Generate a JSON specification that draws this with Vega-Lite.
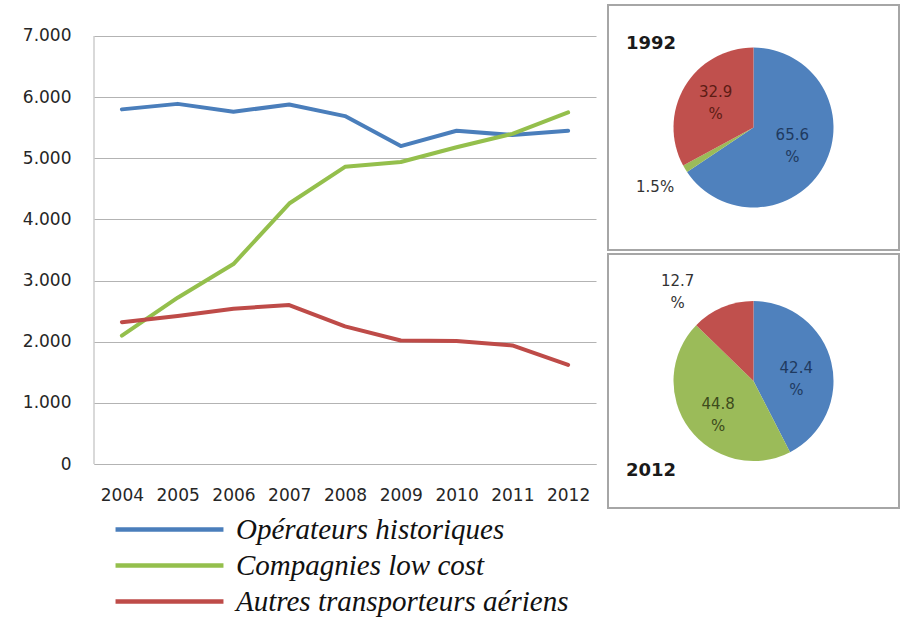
{
  "$schema": "https://vega.github.io/schema/vega-lite/v6.json",
  "padding": {"left": 22, "top": 4, "right": 2, "bottom": 2},
  "config": {"view": {"stroke": null}, "font": "DejaVu Sans"},
  "datasets": {
    "lines": [
      {"year": 2004, "cat": "Opérateurs historiques", "value": 5800},
      {"year": 2005, "cat": "Opérateurs historiques", "value": 5890},
      {"year": 2006, "cat": "Opérateurs historiques", "value": 5760},
      {"year": 2007, "cat": "Opérateurs historiques", "value": 5880},
      {"year": 2008, "cat": "Opérateurs historiques", "value": 5690},
      {"year": 2009, "cat": "Opérateurs historiques", "value": 5200},
      {"year": 2010, "cat": "Opérateurs historiques", "value": 5450},
      {"year": 2011, "cat": "Opérateurs historiques", "value": 5380},
      {"year": 2012, "cat": "Opérateurs historiques", "value": 5450},
      {"year": 2004, "cat": "Compagnies low cost", "value": 2100},
      {"year": 2005, "cat": "Compagnies low cost", "value": 2720},
      {"year": 2006, "cat": "Compagnies low cost", "value": 3270},
      {"year": 2007, "cat": "Compagnies low cost", "value": 4260},
      {"year": 2008, "cat": "Compagnies low cost", "value": 4860},
      {"year": 2009, "cat": "Compagnies low cost", "value": 4940},
      {"year": 2010, "cat": "Compagnies low cost", "value": 5180},
      {"year": 2011, "cat": "Compagnies low cost", "value": 5400},
      {"year": 2012, "cat": "Compagnies low cost", "value": 5750},
      {"year": 2004, "cat": "Autres transporteurs aériens", "value": 2320},
      {"year": 2005, "cat": "Autres transporteurs aériens", "value": 2420},
      {"year": 2006, "cat": "Autres transporteurs aériens", "value": 2540},
      {"year": 2007, "cat": "Autres transporteurs aériens", "value": 2600},
      {"year": 2008, "cat": "Autres transporteurs aériens", "value": 2250},
      {"year": 2009, "cat": "Autres transporteurs aériens", "value": 2020},
      {"year": 2010, "cat": "Autres transporteurs aériens", "value": 2010},
      {"year": 2011, "cat": "Autres transporteurs aériens", "value": 1940},
      {"year": 2012, "cat": "Autres transporteurs aériens", "value": 1620}
    ],
    "pie1992": [
      {"cat": "Opérateurs historiques", "pct": 65.6, "label": "65.6 %"},
      {"cat": "Compagnies low cost", "pct": 1.5, "label": "1.5%"},
      {"cat": "Autres transporteurs aériens", "pct": 32.9, "label": "32.9 %"}
    ],
    "pie2012": [
      {"cat": "Opérateurs historiques", "pct": 42.4, "label": "42.4 %"},
      {"cat": "Compagnies low cost", "pct": 44.8, "label": "44.8 %"},
      {"cat": "Autres transporteurs aériens", "pct": 12.7, "label": "12.7 %"}
    ]
  },
  "spacing": 12,
  "bounds": "flush",
  "resolve": {"scale": {"color": "independent"}, "legend": {"color": "independent"}},
  "hconcat": [
    {
      "width": 502,
      "height": 459,
      "layer": [
        {
          "data": {"values": [{}]},
          "mark": {"type": "rule", "color": "#b3b3b3", "strokeWidth": 1},
          "encoding": {
            "x": {"datum": 2003.5, "type": "quantitative"},
            "y": {"datum": 0, "type": "quantitative"},
            "y2": {"datum": 7000}
          }
        },
        {
          "data": {"name": "lines"},
          "mark": {"type": "line", "strokeWidth": 4, "strokeCap": "round", "strokeJoin": "round"},
          "encoding": {
            "x": {
              "field": "year", "type": "quantitative",
              "scale": {"domain": [2003.5, 2012.5], "nice": false, "zero": false},
              "axis": {
                "title": null, "values": [2004, 2005, 2006, 2007, 2008, 2009, 2010, 2011, 2012],
                "format": "d", "grid": false, "ticks": false, "tickSize": 0, "labelFlush": false,
                "domainColor": "#b3b3b3", "labelPadding": 23, "labelFont": "DejaVu Sans",
                "labelFontSize": 17, "labelColor": "#262626"
              }
            },
            "y": {
              "field": "value", "type": "quantitative",
              "scale": {"domain": [0, 7507], "nice": false},
              "axis": {
                "title": null, "values": [0, 1000, 2000, 3000, 4000, 5000, 6000, 7000],
                "labelExpr": "replace(format(datum.value, ',d'), ',', '.')",
                "grid": true, "gridColor": "#b3b3b3", "gridWidth": 1,
                "domain": false, "ticks": false, "tickSize": 0, "labelPadding": 23,
                "labelFont": "DejaVu Sans", "labelFontSize": 17, "labelColor": "#262626"
              }
            },
            "color": {
              "field": "cat", "type": "nominal",
              "scale": {
                "domain": ["Opérateurs historiques", "Compagnies low cost", "Autres transporteurs aériens"],
                "range": ["#4a7ebb", "#94bf4c", "#be4b48"]
              },
              "legend": {
                "orient": "bottom", "direction": "vertical", "title": null,
                "symbolType": "M-5,0H5", "symbolSize": 466, "symbolStrokeWidth": 4.5,
                "symbolOffset": 61, "labelOffset": 52, "labelFont": "Liberation Serif",
                "labelFontStyle": "italic", "labelFontSize": 29, "labelColor": "#111111",
                "rowPadding": 6, "offset": 12, "padding": 0, "labelLimit": 0
              }
            }
          }
        }
      ]
    },
    {
      "spacing": 4,
      "bounds": "flush",
      "vconcat": [
        {
          "width": 291,
          "height": 245,
          "view": {"stroke": "#a6a6a6", "strokeWidth": 2},
          "title": {"text": "1992", "orient": "top", "anchor": "start", "offset": -48, "dx": 18, "fontSize": 18, "fontWeight": "bold", "font": "DejaVu Sans", "color": "#1a1a1a"},
          "data": {"name": "pie1992"},
          "encoding": {
            "theta": {"field": "pct", "type": "quantitative", "stack": true},
            "order": {"field": "cat", "type": "ordinal", "sort": "descending"}
          },
          "layer": [
            {
              "mark": {"type": "arc", "outerRadius": 80},
              "encoding": {
                "color": {
                  "field": "cat", "type": "nominal",
                  "scale": {
                    "domain": ["Opérateurs historiques", "Compagnies low cost", "Autres transporteurs aériens"],
                    "range": ["#4f81bd", "#9bbb59", "#c0504d"]
                  },
                  "legend": null
                }
              }
            },
            {
              "mark": {"type": "text", "radius": 44, "dy": -13, "fontSize": 15, "lineHeight": 22, "lineBreak": " "},
              "encoding": {
                "text": {"condition": {"test": "datum.pct >= 20", "field": "label"}, "value": ""},
                "fill": {
                  "field": "cat", "type": "nominal",
                  "scale": {
                    "domain": ["Opérateurs historiques", "Compagnies low cost", "Autres transporteurs aériens"],
                    "range": ["#1f3a60", "#3d4b1c", "#5c1c14"]
                  },
                  "legend": null
                }
              }
            },
            {
              "mark": {"type": "text", "radius": 115, "fontSize": 15, "fill": "#333333", "lineHeight": 22, "lineBreak": " "},
              "encoding": {
                "text": {"condition": {"test": "datum.pct < 20", "field": "label"}, "value": ""}
              }
            }
          ]
        },
        {
          "width": 291,
          "height": 254,
          "view": {"stroke": "#a6a6a6", "strokeWidth": 2},
          "title": {"text": "2012", "orient": "bottom", "anchor": "start", "offset": -46, "dx": 18, "fontSize": 18, "fontWeight": "bold", "font": "DejaVu Sans", "color": "#1a1a1a"},
          "data": {"name": "pie2012"},
          "encoding": {
            "theta": {"field": "pct", "type": "quantitative", "stack": true},
            "order": {"field": "cat", "type": "ordinal", "sort": "descending"}
          },
          "layer": [
            {
              "mark": {"type": "arc", "outerRadius": 80},
              "encoding": {
                "color": {
                  "field": "cat", "type": "nominal",
                  "scale": {
                    "domain": ["Opérateurs historiques", "Compagnies low cost", "Autres transporteurs aériens"],
                    "range": ["#4f81bd", "#9bbb59", "#c0504d"]
                  },
                  "legend": null
                }
              }
            },
            {
              "mark": {"type": "text", "radius": 44, "dy": -3, "fontSize": 15, "lineHeight": 22, "lineBreak": " "},
              "encoding": {
                "text": {"condition": {"test": "datum.pct >= 20", "field": "label"}, "value": ""},
                "fill": {
                  "field": "cat", "type": "nominal",
                  "scale": {
                    "domain": ["Opérateurs historiques", "Compagnies low cost", "Autres transporteurs aériens"],
                    "range": ["#1f3a60", "#3d4b1c", "#5c1c14"]
                  },
                  "legend": null
                }
              }
            },
            {
              "mark": {"type": "text", "radius": 100, "dx": -37, "dy": -8, "fontSize": 15, "fill": "#333333", "lineHeight": 22, "lineBreak": " "},
              "encoding": {
                "text": {"condition": {"test": "datum.pct < 20", "field": "label"}, "value": ""}
              }
            }
          ]
        }
      ]
    }
  ]
}
